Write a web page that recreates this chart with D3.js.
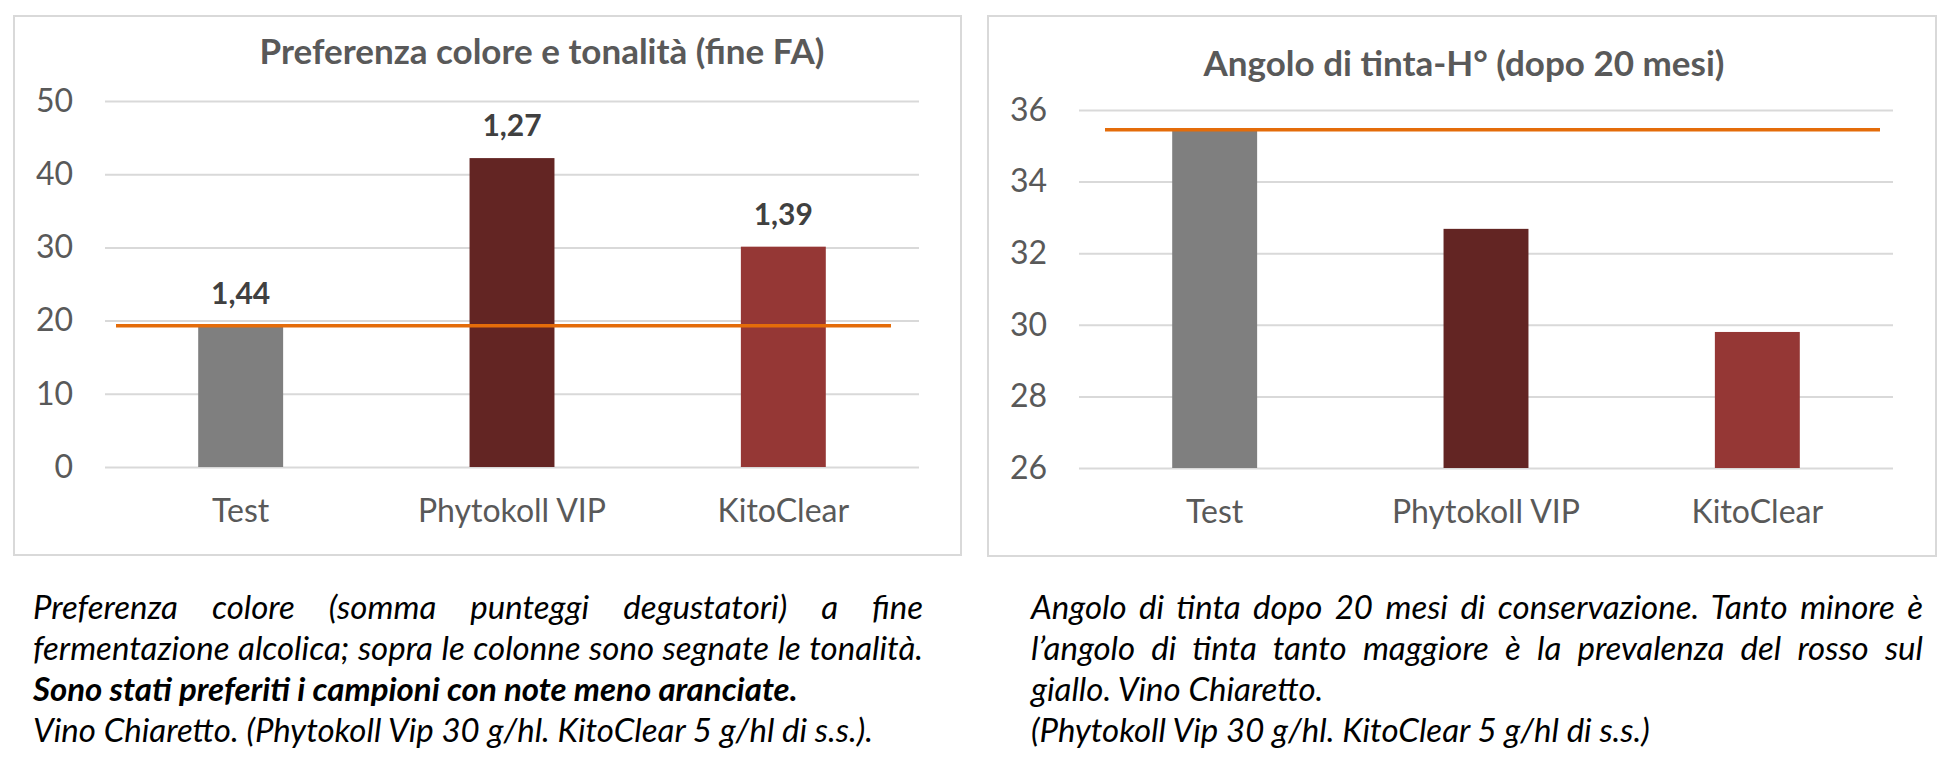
<!doctype html>
<html lang="it">
<head>
  <meta charset="UTF-8">
  <title>Preferenza colore e angolo di tinta</title>
  <style>
    body { margin: 0; background: #fff; }
    #app {
      position: relative;
      width: 1942px;
      height: 768px;
      font-family: Lato, 'Open Sans', sans-serif;
    }
    .caption {
      position: absolute;
      font-style: italic;
      font-size: 33px;
      line-height: 41px;
      color: #000;
    }
    .caption div { white-space: nowrap; }
    .caption .just { text-align: justify; text-align-last: justify; }
    .caption .bold { font-weight: bold; }
  </style>
</head>
<body>
<div id="app"></div>
<script src="https://cdn.jsdelivr.net/npm/d3@7/dist/d3.min.js"></script>
<script>
  // data
  var categories = ['Test', 'Phytokoll VIP', 'KitoClear'];
  var barColors = ['#7f7f7f', '#632523', '#953735'];

  var prefValues = [19.3, 42.2, 30.1];        // somma punteggi
  var prefTones = ['1,44', '1,27', '1,39'];    // tonalità sopra le colonne
  var prefRef = 19.3;
  var prefTicks = [0, 10, 20, 30, 40, 50];

  var hueValues = [35.45, 32.68, 29.8];        // angolo di tinta H°
  var hueRef = 35.45;
  var hueTicks = [26, 28, 30, 32, 34, 36];

  var width = 1942;
  var height = 768;

  var svg = d3.select('#app')
    .append('svg')
    .attr('width', width)
    .attr('height', height)
    .style('position', 'absolute')
    .style('left', 0)
    .style('top', 0);

  drawChart({
    box: [14, 16, 947, 539],
    plot: [105, 919, 101, 467],
    title: 'Preferenza colore e tonalità (fine FA)',
    titleX: 542, titleY: 50,
    domain: [0, 50],
    ticks: prefTicks,
    values: prefValues,
    labels: prefTones,
    ref: prefRef,
    refInset: [11, 28]
  });

  drawChart({
    box: [988, 16, 948, 540],
    plot: [1079, 1893, 110, 468],
    title: 'Angolo di tinta-H° (dopo 20 mesi)',
    titleX: 1464, titleY: 62,
    domain: [26, 36],
    ticks: hueTicks,
    values: hueValues,
    labels: null,
    ref: hueRef,
    refInset: [26, 13]
  });

  function drawChart(o) {
    var g = svg.append('g');

    g.append('rect')
      .attr('x', o.box[0])
      .attr('y', o.box[1])
      .attr('width', o.box[2])
      .attr('height', o.box[3])
      .attr('fill', '#fff')
      .attr('stroke', '#d9d9d9')
      .attr('stroke-width', 2);

    g.append('text')
      .attr('x', o.titleX)
      .attr('y', o.titleY)
      .attr('text-anchor', 'middle')
      .attr('dominant-baseline', 'central')
      .attr('font-size', 35)
      .attr('font-weight', 'bold')
      .attr('fill', '#595959')
      .text(o.title);

    var x = d3.scaleBand()
      .domain(categories)
      .range([o.plot[0], o.plot[1]])
      .paddingInner(0.687)
      .paddingOuter(0.3435);

    var y = d3.scaleLinear()
      .domain(o.domain)
      .range([o.plot[3], o.plot[2]]);

    var yAxis = g.append('g')
      .attr('transform', 'translate(' + o.plot[0] + ',0)')
      .call(d3.axisLeft(y)
        .tickValues(o.ticks)
        .tickSize(-(o.plot[1] - o.plot[0]))
        .tickPadding(32));
    yAxis.select('.domain').remove();
    yAxis.selectAll('line').attr('stroke', '#d9d9d9').attr('stroke-width', 2);
    yAxis.selectAll('text')
      .attr('font-family', 'Lato, sans-serif')
      .attr('font-size', 32)
      .attr('fill', '#595959');

    var xAxis = g.append('g')
      .attr('transform', 'translate(0,' + o.plot[3] + ')')
      .call(d3.axisBottom(x).tickSize(0).tickPadding(32));
    xAxis.select('.domain').remove();
    xAxis.selectAll('text')
      .attr('font-family', 'Lato, sans-serif')
      .attr('font-size', 32)
      .attr('fill', '#595959');

    g.selectAll('rect.bar')
      .data(o.values)
      .enter()
      .append('rect')
      .attr('class', 'bar')
      .attr('x', (d, i) => x(categories[i]))
      .attr('y', d => y(d))
      .attr('width', x.bandwidth())
      .attr('height', d => y(o.domain[0]) - y(d))
      .attr('fill', (d, i) => barColors[i]);

    if (o.labels) {
      g.selectAll('text.val')
        .data(o.values)
        .enter()
        .append('text')
        .attr('class', 'val')
        .attr('x', (d, i) => x(categories[i]) + x.bandwidth() / 2)
        .attr('y', d => y(d) - 34)
        .attr('text-anchor', 'middle')
        .attr('dominant-baseline', 'central')
        .attr('font-size', 30)
        .attr('font-weight', 'bold')
        .attr('fill', '#404040')
        .text((d, i) => o.labels[i]);
    }

    g.append('line')
      .attr('x1', o.plot[0] + o.refInset[0])
      .attr('x2', o.plot[1] - o.refInset[1])
      .attr('y1', y(o.ref))
      .attr('y2', y(o.ref))
      .attr('stroke', '#e46c0a')
      .attr('stroke-width', 3.5);
  }

  // didascalie
  var capLeft = d3.select('#app').append('div')
    .attr('class', 'caption')
    .style('left', '33px')
    .style('top', '586px')
    .style('width', '890px');
  capLeft.append('div').attr('class', 'just')
    .text('Preferenza colore (somma punteggi degustatori) a fine');
  capLeft.append('div').attr('class', 'just')
    .text('fermentazione alcolica; sopra le colonne sono segnate le tonalità.');
  capLeft.append('div').attr('class', 'bold')
    .text('Sono stati preferiti i campioni con note meno aranciate.');
  capLeft.append('div')
    .text('Vino Chiaretto. (Phytokoll Vip 30 g/hl. KitoClear 5 g/hl di s.s.).');

  var capRight = d3.select('#app').append('div')
    .attr('class', 'caption')
    .style('left', '1031px')
    .style('top', '586px')
    .style('width', '892px');
  capRight.append('div').attr('class', 'just')
    .text('Angolo di tinta dopo 20 mesi di conservazione. Tanto minore è');
  capRight.append('div').attr('class', 'just')
    .text('l’angolo di tinta tanto maggiore è la prevalenza del rosso sul');
  capRight.append('div')
    .text('giallo. Vino Chiaretto.');
  capRight.append('div')
    .text('(Phytokoll Vip 30 g/hl. KitoClear 5 g/hl di s.s.)');
</script>
</body>
</html>
